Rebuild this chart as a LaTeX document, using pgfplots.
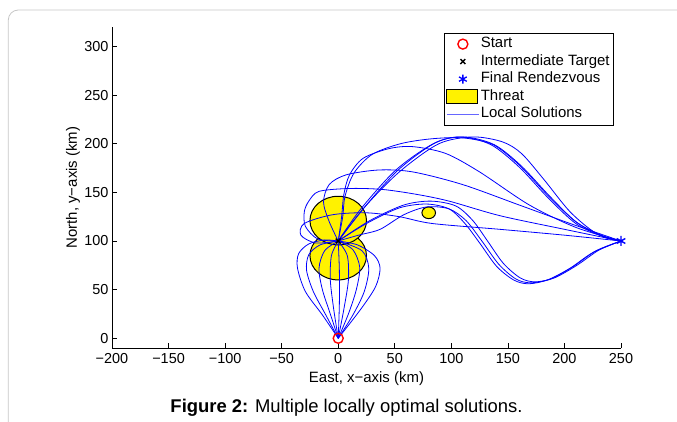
\documentclass[border=0pt]{standalone}
\usepackage{fontspec}
\setmainfont{Liberation Sans}
\usepackage{pgfplots}
\pgfplotsset{compat=1.18}
\pgfplotsset{traj/.style={blue, line width=0.8bp, smooth, forget plot}}
\begin{document}
\begin{tikzpicture}
\useasboundingbox (0,0) rectangle (677bp,422bp);
\draw[gray!45, line width=0.8bp, rounded corners=10bp] (8.3bp,-20bp) -- (8.3bp,412bp) -- (720bp,412bp);
\node[anchor=base, font=\fontsize{18.5}{22}\selectfont] at (346.5bp,10bp) {\textbf{Figure 2:} Multiple locally optimal solutions.};
\begin{axis}[
  at={(112bp,74bp)}, anchor=south west, scale only axis, width=509bp, height=321bp,
  xmin=-200, xmax=250, ymin=-10, ymax=320,
  axis x line*=bottom, axis y line*=left,
  tick align=inside, major tick length=5bp,
  xtick={-200,-150,...,250},
  xticklabels={−200,−150,−100,−50,0,50,100,150,200,250},
  ytick={0,50,...,300},
  /pgf/number format/assume math mode=true,
  tick label style={font=\fontsize{14.5}{17}\selectfont},
  xticklabel style={anchor=base, yshift=-16bp},
  label style={font=\fontsize{15}{18}\selectfont},
  xlabel={East, x−axis (km)}, ylabel={North, y−axis (km)},
  xlabel style={at={(axis description cs:0.5,-0.109)}, anchor=base},
  ylabel style={at={(axis description cs:-0.0688,0.5)}, anchor=base},
  axis line style={line width=0.7bp},
  every tick/.style={black, line width=0.7bp},
  legend style={at={(axis description cs:0.6523,0.9813)}, anchor=north west, draw=black, line width=0.7bp,
    font=\fontsize{15}{18}\selectfont, inner sep=2bp, row sep=0bp,
    nodes={inner sep=1.5bp, text height=11bp, text depth=3.5bp}},
  legend cell align=left,
  legend image code/.code={\draw[mark repeat=2,mark phase=2,#1] plot coordinates {(0bp,0bp) (16bp,0bp) (32bp,0bp)};},
]
% threats
\draw[fill=yellow, draw=black, line width=1bp] (axis cs:0,85) ellipse [x radius=25, y radius=25];
\draw[fill=yellow, draw=black, line width=1bp] (axis cs:0,121) ellipse [x radius=25, y radius=25];
\draw[fill=yellow, draw=black, line width=1bp] (axis cs:80,129) ellipse [x radius=6, y radius=6];
% start -> intermediate target
\addplot[traj] coordinates {(0,0) (-14,24) (-29,48) (-36,72) (-35,87) (-26,97) (-12,101) (0,100)};
\addplot[traj] coordinates {(0,0) (-11,24) (-22,48) (-28,70) (-26,86) (-16,96) (0,100)};
\addplot[traj] coordinates {(0,0) (-7,25) (-14,50) (-17,72) (-12,90) (0,100)};
\addplot[traj] coordinates {(0,0) (-4,30) (-7,60) (-6,85) (0,100)};
\addplot[traj] coordinates {(0,0) (1,35) (1,70) (0,100)};
\addplot[traj] coordinates {(0,0) (5,30) (9,60) (8,85) (0,100)};
\addplot[traj] coordinates {(0,0) (9,25) (16,50) (19,73) (13,91) (0,100)};
\addplot[traj] coordinates {(0,0) (13,24) (23,48) (27,72) (21,90) (0,100)};
\addplot[traj] coordinates {(0,0) (20,30) (33,53) (37,72) (32,85) (17,96) (0,100)};
% intermediate target -> final rendezvous
\addplot[traj] coordinates {(0,100) (20,133) (51,173) (84,200) (108,207) (135,199) (160,176) (185,145) (210,118) (235,104) (250,100)};
\addplot[traj] coordinates {(0,100) (22,133) (53,173) (86,201) (111,207) (138,199) (162,177) (187,146) (211,119) (236,104) (250,100)};
\addplot[traj] coordinates {(0,100) (25,137) (55,172) (89,200) (119,207) (145,202) (162,190) (182,163) (205,130) (228,108) (250,100)};
\addplot[traj] coordinates {(0,100) (4,125) (6,146) (14,170) (30,189) (55,200) (82,205) (110,206) (137,199) (161,177) (186,146) (211,119) (236,104) (250,100)};
\addplot[traj] coordinates {(0,100) (3,125) (5,148) (10,168) (22,185) (45,195) (66,197) (95,190) (125,171) (169,137) (210,114) (250,100)};
\addplot[traj] coordinates {(0,100) (-8,120) (-13,140) (-8,158) (7,168) (36,173) (66,171) (110,158) (160,137) (205,118) (250,100)};
\addplot[traj] coordinates {(0,100) (-18,102) (-29,115) (-30,130) (-26,141) (-17,151) (10,154) (39,153) (69,148) (98,141) (143,126) (200,112) (250,100)};
\addplot[traj] coordinates {(0,100) (-20,98) (-33,106) (-30,118) (-5,127) (25,129) (54,125) (83,118) (143,112) (200,106) (250,100)};
\addplot[traj] coordinates {(0,100) (25,118) (54,134) (78,138) (98,133) (112,118) (125,98) (140,74) (155,60) (168,56) (185,60) (205,72) (225,88) (250,100)};
\addplot[traj] coordinates {(0,100) (18,106) (37,112) (58,127) (78,135) (98,133) (113,121) (127,100) (142,76) (157,61) (170,57) (188,61) (208,74) (228,90) (250,100)};
\addplot[traj] coordinates {(0,100) (28,121) (58,137) (82,141) (104,136) (119,121) (132,100) (146,77) (161,62) (174,58) (191,62) (211,75) (231,91) (250,100)};
% markers
\addplot[only marks, mark=o, red, mark size=5bp, line width=1.4bp, forget plot] coordinates {(0,0)};
\addplot[only marks, mark=x, black, mark size=3.5bp, line width=1.4bp, forget plot] coordinates {(0,100)};
\addplot[only marks, mark=asterisk, blue, mark size=5bp, line width=1.4bp, forget plot] coordinates {(250,100)};
% legend
\addlegendimage{only marks, mark=o, red, mark size=5bp, line width=1.4bp}
\addlegendentry{Start}
\addlegendimage{only marks, mark=x, black, mark size=3.5bp, line width=1.4bp}
\addlegendentry{Intermediate Target}
\addlegendimage{only marks, mark=asterisk, blue, mark size=4.5bp, line width=1.3bp}
\addlegendentry{Final Rendezvous}
\addlegendimage{legend image code/.code={\draw[fill=yellow, draw=black, line width=1bp] (0bp,-7bp) rectangle (31bp,7bp);}}
\addlegendentry{Threat}
\addlegendimage{blue!60, line width=0.9bp}
\addlegendentry{Local Solutions}
\end{axis}
\end{tikzpicture}
\end{document}
